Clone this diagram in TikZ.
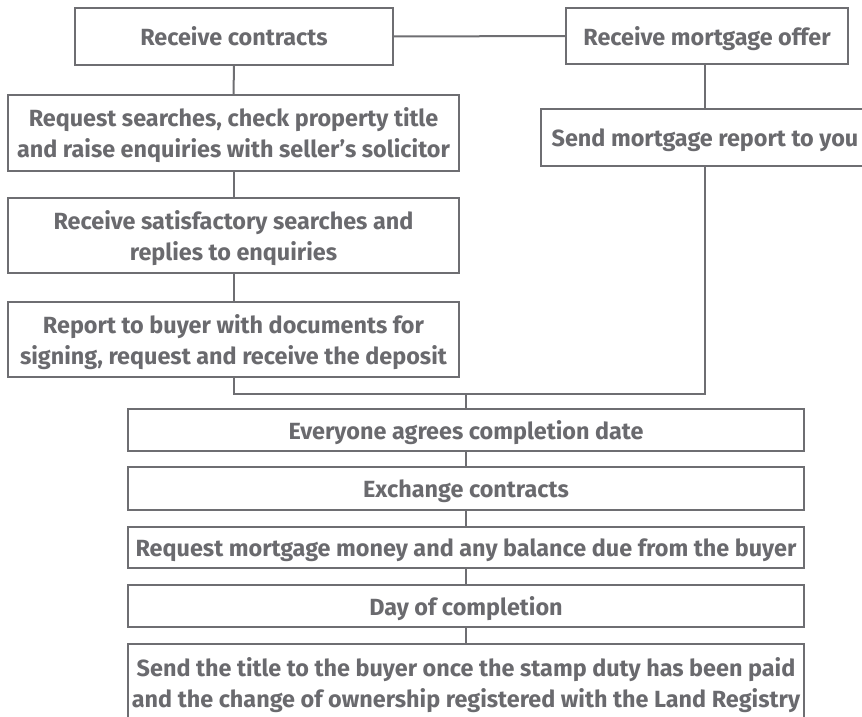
\documentclass[tikz,border=0pt]{standalone}
\usepackage{fontspec}
\setmainfont{Fira Sans}
\definecolor{txtgray}{HTML}{6A6A6E}
\definecolor{linegray}{HTML}{6E6E72}
\begin{document}
\begin{tikzpicture}[x=1pt,y=-1pt,
  box/.style={draw=linegray,line width=2pt,fill=white,inner sep=0pt,align=center,
    text=txtgray,text depth=0pt,font=\fontsize{23.4}{31}\selectfont\bfseries},
  conn/.style={draw=linegray,line width=2pt}]
\useasboundingbox (0,0) rectangle (862,717);
\clip (0,0) rectangle (862,717);
\node[box,minimum width=318pt,minimum height=57pt] (A) at (234,36.5) {Receive contracts};
\node[box,minimum width=282pt,minimum height=56pt] (B) at (707,36) {Receive mortgage offer};
\node[box,minimum width=328pt,minimum height=57pt] (C) at (705,137.5) {Send mortgage report to you};
\node[box,minimum width=451pt,minimum height=76pt] (D) at (233.5,133) {Request searches, check property title\\and raise enquiries with seller’s solicitor};
\node[box,minimum width=451pt,minimum height=75pt] (E) at (233.5,235.5) {Receive satisfactory searches and\\replies to enquiries};
\node[box,minimum width=451pt,minimum height=75pt] (F) at (233.5,339.5) {Report to buyer with documents for\\signing, request and receive the deposit};
\node[box,minimum width=676pt,minimum height=42pt] (G) at (466,430) {Everyone agrees completion date};
\node[box,minimum width=676pt,minimum height=43pt] (H) at (466,488.5) {Exchange contracts};
\node[box,minimum width=676pt,minimum height=41pt] (I) at (466,547.5) {Request mortgage money and any balance due from the buyer};
\node[box,minimum width=676pt,minimum height=42pt] (J) at (466,606) {Day of completion};
\node[box,minimum width=676pt,minimum height=78pt] (K) at (466,683) {Send the title to the buyer once the stamp duty has been paid\\and the change of ownership registered with the Land Registry};
\coordinate (j) at (466,394);
\draw[conn] (A.east) -- (B.west);
\draw[conn] (A.south) -- (D.north);
\draw[conn] (D.south) -- (E.north);
\draw[conn] (E.south) -- (F.north);
\draw[conn] (B.south -| C.north) -- (C.north);
\draw[conn] (F.south) |- (j) -| (C.south);
\draw[conn] (j) -- (G.north);
\draw[conn] (G.south) -- (H.north);
\draw[conn] (H.south) -- (I.north);
\draw[conn] (I.south) -- (J.north);
\draw[conn] (J.south) -- (K.north);
\end{tikzpicture}
\end{document}
